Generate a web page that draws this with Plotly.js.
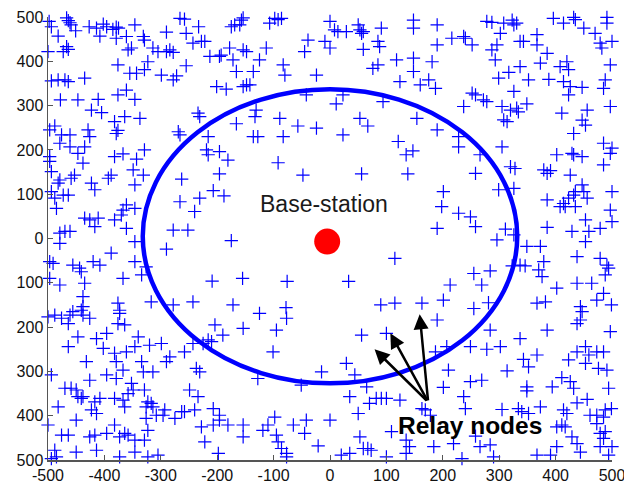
<!DOCTYPE html>
<html>
<head>
<meta charset="utf-8">
<script src="https://cdn.plot.ly/plotly-3.0.1.min.js"></script>
<style>html,body{margin:0;padding:0;background:#fff;}#chart{width:624px;height:484px;}</style>
</head>
<body>
<div id="chart"></div>
<script>
// Relay node positions (x, y)
const relayNodes = [
[-498,490],[-494,478],[-467,498],[-464,492],[-461,487],[-482,457],[-451,469],[-459,482],[-427,478],[-414,475],[-402,484],[-396,478],[-385,472],[-379,477],[-375,475],
[-408,457],[-346,482],[-379,452],[-361,456],[-331,456],[-329,448],[-290,466],[-266,497],[-258,495],[-233,478],[-255,463],[-243,441],[-228,445],[-222,445],
[-500,422],[-473,422],[-464,427],[-467,433],[-358,426],[-352,430],[-314,430],[-305,422],[-290,422],[-284,426],[-278,420],
[-376,392],[-355,373],[-343,373],[-323,399],[-329,381],[-299,369],[-278,358],[-272,367],[-255,390],
[-494,356],[-482,358],[-470,358],[-464,354],[-435,362],
[-478,313],[-447,313],[-411,314],[-376,324],[-361,335],[-346,314],[-423,290],[-405,284],
[-382,264],[-364,275],[-337,271],[-234,283],[-231,275],
[-497,245],[-488,254],[-476,234],[-461,234],[-429,245],[-426,230],[-379,237],[-376,244],[-269,241],[-266,234],[-216,230],
[-479,215],[-461,207],[-435,207],[-447,192],[-329,200],[-497,185],[-382,185],[-367,191],[-343,179],[-219,200],[-216,189],
[-154,498],[-157,493],[-175,478],[-169,482],[-160,482],[-107,486],[-98,497],[-92,494],[-86,497],
[0,490],[8,471],[14,467],[29,467],[50,482],[53,471],[56,463],[59,467],[91,475],
[-39,448],[-45,422],[-9,445],[0,430],[59,427],[85,445],[88,433],[118,403],
[-213,411],[-196,411],[-193,414],[-178,430],[-172,403],[-154,426],[-148,422],[-125,403],[-113,430],
[-83,392],[-80,369],[-166,377],[-136,377],[-201,343],[-184,337],[-154,343],[-148,347],[-142,347],
[-24,369],[76,384],[85,392],[124,354],[-42,324],[23,324],[11,304],[94,309],
[-131,290],[-133,275],[-166,259],[-89,271],[-57,254],[-24,249],[53,271],[67,254],
[-136,230],[-128,230],[-83,230],[23,234],[121,219],[-196,196],[-181,177],[135,189],
[148,493],[148,475],[190,482],[190,437],[216,452],[237,456],[240,452],[252,437],
[278,490],[287,488],[308,486],[323,493],[326,482],[331,486],
[302,463],[287,426],[296,437],[293,403],[337,445],[343,445],[367,460],[367,437],[385,418],
[396,497],[414,486],[432,499],[435,494],[450,475],[470,463],[491,499],[491,486],
[479,441],[482,430],[500,445],
[148,407],[181,399],[148,377],[175,358],[160,347],[187,339],
[299,362],[317,375],[337,388],[352,358],[373,396],[388,359],[408,388],[420,399],[423,381],
[414,354],[426,343],[423,324],[447,341],[497,392],[488,358],[485,339],[326,332],
[252,328],[258,324],[272,313],[278,309],[237,298],
[305,298],[320,290],[331,294],[334,286],[349,304],[308,268],[314,264],
[411,283],[456,290],[447,267],[453,256],[432,237],[497,298],[154,271],[190,245],[228,230],[228,207],[305,207],
[402,189],[429,192],[432,189],[447,185],[485,215],[500,204],[497,192],[147,198],[266,189],
[-497,174],[-494,151],[-438,170],[-349,155],[-331,143],[-346,121],[-388,143],[-393,136],[-453,143],[-459,136],[-479,132],[-482,125],
[-494,106],[-488,91],[-473,98],[-464,98],[-423,125],[-417,110],[-485,68],[-361,76],[-367,64],[-346,68],
[-435,46],[-426,42],[-411,46],[-417,27],[-382,42],[-370,53],[-361,23],
[-479,12],[-470,16],[-461,16],[-479,-11],[-346,-7],[-388,-33],[-497,-52],[-491,-56],
[-456,-60],[-444,-67],[-441,-75],[-420,-52],[-408,-60],[-346,-52],[-334,-82],[-367,-90],
[-497,-90],[-479,-105],[-435,-101],[-438,-131],[-438,-154],[-376,-146],[-373,-162],[-317,-143],[-278,-150],
[-326,-64],[-290,-24],[-278,19],[-252,19],[-266,83],[-240,61],[-231,91],[-263,134],[-243,-143],
[-92,171],[-196,146],[-48,143],[56,146],[138,146],[-207,108],[-188,96],[-175,-5],[115,-45],[-209,-96],[-155,-90],[-76,-97],[33,-97],[-172,-150],[-78,-156],[90,-150],[115,-146],
[485,166],[258,147],[320,162],[328,158],[379,155],[385,147],[391,153],[426,143],
[201,106],[198,72],[299,110],[326,113],[385,87],
[447,121],[435,106],[432,98],[450,106],[456,91],[423,91],[414,79],[408,72],[417,72],[435,72],
[500,106],[497,64],[500,38],
[228,57],[249,49],[258,27],[190,23],[296,-3],[311,21],[326,8],[349,-18],[373,-18],[385,25],
[429,16],[453,42],[459,16],[453,-7],[479,23],
[438,-41],[479,-45],[491,-60],[494,-67],[488,-82],
[379,-52],[370,-71],[376,-86],[337,-60],[346,-62],[323,-62],
[255,-79],[284,-73],[269,-105],[213,-105],
[402,-112],[438,-101],[464,-101],[485,-124],[473,-139],[499,-150],
[201,-139],[163,-146],[255,-158],[281,-145],[367,-146],[382,-143],[444,-154],
[-500,-177],[-488,-173],[-476,-180],[-461,-173],[-464,-192],[-456,-165],[-441,-162],[-438,-173],[-426,-180],
[-373,-169],[-376,-192],[-364,-195],
[-447,-222],[-464,-244],[-414,-226],[-402,-248],[-396,-214],
[-346,-244],[-340,-222],[-320,-241],[-299,-237],[-361,-256],[-382,-259],
[-284,-267],[-290,-278],[-258,-256],[-243,-237],[-225,-237],[-216,-229],
[-432,-278],[-379,-278],[-367,-297],[-334,-278],[-331,-301],[-314,-301],
[-494,-308],[-426,-320],[-396,-308],[-379,-316],
[-352,-327],[-349,-342],[-329,-342],
[-470,-338],[-459,-338],[-450,-342],[-447,-357],[-438,-357],[-441,-361],
[-408,-361],[-417,-369],[-423,-387],[-414,-395],
[-382,-361],[-367,-365],[-364,-380],[-358,-350],
[-323,-369],[-317,-372],[-314,-380],[-326,-380],
[-308,-399],[-296,-399],[-293,-387],[-275,-406],[-263,-391],[-258,-391],[-240,-387],
[-249,-342],[-234,-357],[-237,-293],[-231,-301],
[-482,-380],[-500,-421],[-450,-410],[-476,-444],[-464,-444],
[-426,-448],[-417,-444],[-396,-440],[-382,-421],
[-364,-440],[-358,-444],[-346,-455],[-373,-448],
[-326,-406],[-323,-433],[-329,-455],
[-228,-425],[-222,-459],
[-488,-478],[-485,-493],[-450,-482],[-414,-478],
[-373,-493],[-346,-482],[-323,-493],[-305,-489],[-494,-497],
[-125,-169],[-77,-180],[-204,-195],[-190,-218],[-210,-233],[-154,-203],[-95,-207],[-101,-256],[56,-218],[100,-214],
[-128,-316],[-51,-331],[-15,-301],[29,-282],[44,-308],[65,-335],
[35,-357],[70,-372],[82,-361],[91,-361],[100,-361],[124,-365],[50,-395],
[-207,-384],[-196,-399],[-196,-410],[-207,-421],
[-181,-421],[-154,-421],[-154,-448],
[-98,-403],[-110,-421],[-119,-433],[-95,-444],[-92,-459],[-86,-474],[-77,-485],[-77,-493],
[-65,-421],[-42,-410],[-45,-440],[0,-410],[-21,-468],
[53,-448],[59,-474],[67,-474],[73,-478],
[20,-489],[35,-485],[100,-493],
[109,-436],[135,-455],[141,-470],[135,-485],
[-198,-485],
[447,-165],[190,-184],[284,-207],[337,-226],[385,-207],[438,-192],[444,-184],[497,-210],
[187,-256],[207,-244],[249,-244],[278,-250],[302,-244],
[343,-273],[352,-290],[367,-263],
[423,-274],[438,-256],[453,-244],[459,-263],[453,-282],[473,-256],[485,-256],
[476,-293],[491,-297],[210,-297],[201,-336],[249,-323],[269,-320],[314,-299],
[349,-335],[349,-344],[394,-335],[411,-314],[426,-323],[432,-338],[494,-338],
[237,-357],[240,-384],[163,-384],[169,-387],[178,-399],
[305,-386],[334,-384],[340,-391],[352,-395],[373,-380],
[414,-387],[420,-395],[438,-371],[456,-363],
[461,-399],[473,-399],[485,-403],[488,-387],[499,-384],
[411,-421],[417,-425],[402,-425],[473,-418],[479,-440],[488,-436],[258,-446],
[184,-470],[219,-463],[266,-470],[284,-466],[234,-497],[290,-493],
[367,-489],[391,-489],[402,-470],[429,-448],[438,-463],[444,-482],
[485,-451],[494,-489],[479,-470],[500,-470]
];

const baseStation = [-5, -7];
const coverageCenter = [0, 5];
const coverageRadius = 332;

const arrowTail = [174, -369];
const arrowTipsX = [79, 107, 159];
const arrowTipsY = [-250, -214, -171];

const labelBaseStation = {text: 'Base-station', x: -10, y: 77};
const labelRelay = {text: '<b>Relay nodes</b>', x: 249, y: -421};

const xTickVals = [-500, -400, -300, -200, -100, 0, 100, 200, 300, 400, 500];
const xTickText = ['-500', '-400', '-300', '-200', '-100', '0', '100', '200', '300', '400', '500'];
const yTickVals = [-500, -400, -300, -200, -100, 0, 100, 200, 300, 400, 500];
const yTickText = ['500', '400', '300', '200', '100', '0', '100', '200', '300', '400', '500'];

const FONT = '"Liberation Sans", Arial, Helvetica, sans-serif';

const traces = [
  {
    type: 'scatter', mode: 'markers',
    x: relayNodes.map(p => p[0]),
    y: relayNodes.map(p => p[1]),
    cliponaxis: false,
    marker: {symbol: 'cross-thin', size: 9.5, color: '#0000ff', line: {color: '#0000ff', width: 1.2}},
    hoverinfo: 'skip', showlegend: false
  },
  {
    type: 'scatter', mode: 'markers',
    x: [baseStation[0]], y: [baseStation[1]],
    marker: {symbol: 'circle', size: 26, color: '#ff0000', line: {width: 0}},
    hoverinfo: 'skip', showlegend: false
  }
];

const axisCommon = {
  range: [-500, 500],
  showgrid: false, zeroline: false,
  showline: true, linecolor: '#555', linewidth: 1.5,
  ticks: 'inside', ticklen: 5, tickcolor: '#555', tickwidth: 1,
  tickfont: {family: FONT, size: 16, color: '#111'},
  ticklabeloverflow: 'allow',
  fixedrange: true
};

const arrows = arrowTipsX.map((tx, i) => ({
  xref: 'x', yref: 'y', axref: 'x', ayref: 'y',
  x: tx, y: arrowTipsY[i], ax: arrowTail[0], ay: arrowTail[1],
  text: '', showarrow: true, arrowhead: 2, arrowsize: 1.2, arrowwidth: 2.5, arrowcolor: '#000'
}));

const layout = {
  width: 624, height: 484,
  margin: {l: 48, r: 12, t: 17, b: 24},
  paper_bgcolor: '#fff', plot_bgcolor: '#fff',
  font: {family: FONT, size: 16, color: '#111'},
  showlegend: false,
  xaxis: Object.assign({}, axisCommon, {tickvals: xTickVals, ticktext: xTickText}),
  yaxis: Object.assign({}, axisCommon, {tickvals: yTickVals, ticktext: yTickText}),
  shapes: [{
    type: 'circle', xref: 'x', yref: 'y', layer: 'above',
    x0: coverageCenter[0] - coverageRadius, x1: coverageCenter[0] + coverageRadius,
    y0: coverageCenter[1] - coverageRadius, y1: coverageCenter[1] + coverageRadius,
    line: {color: '#0000ff', width: 4.5}
  }],
  annotations: arrows.concat([
    {xref: 'x', yref: 'y', x: labelBaseStation.x, y: labelBaseStation.y, text: labelBaseStation.text,
     showarrow: false, font: {family: FONT, size: 23, color: '#1a1a1a'}},
    {xref: 'x', yref: 'y', x: labelRelay.x, y: labelRelay.y, text: labelRelay.text,
     showarrow: false, font: {family: FONT, size: 24.5, color: '#000'}}
  ])
};

Plotly.newPlot('chart', traces, layout, {displayModeBar: false, staticPlot: true});
</script>
</body>
</html>
